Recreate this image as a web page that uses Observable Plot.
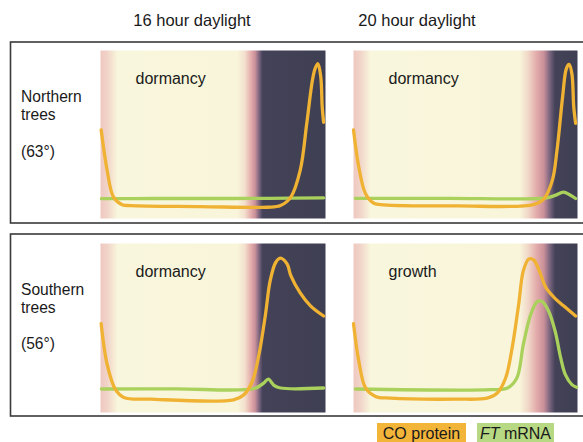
<!DOCTYPE html>
<html><head><meta charset="utf-8">
<script src="https://cdn.jsdelivr.net/npm/d3@7"></script>
<script src="https://cdn.jsdelivr.net/npm/@observablehq/plot@0.6"></script>
<style>
body{margin:0;background:#fff;}
#root{position:relative;width:583px;height:442px;overflow:hidden;font-family:"Liberation Sans",Arial,Helvetica,sans-serif;color:#1a1a1a;background:#fff;}
.panel{position:absolute;}
</style></head><body><div id="root"></div>
<script>
// ---- data ----
const columns = ["16 hour daylight", "20 hour daylight"];
const rowLabels = [["Northern", "trees", "(63°)"], ["Southern", "trees", "(56°)"]];
const states = [["dormancy", "dormancy"], ["dormancy", "growth"]];
const legendLabels = ["CO protein", "FT mRNA"];

// x = hour of day (0–24), y = relative level (0–100)
const coNorth16 = [[0.07,52.8],[0.71,28.6],[1.39,12.7],[2.31,8.2],[3.2,7.7],[10.7,7.1],[17.8,6.7],[19.2,7.7],[20.3,12.7],[21.3,28.6],[22.0,56.5],[22.6,82.1],[22.9,89.3],[23.2,92.1],[23.5,84.1],[23.65,66.3],[23.8,57.3]];
const ftNorth16 = [[0.1,11.8],[6,11.9],[12,11.9],[18,12.0],[23.8,12.3]];
const coNorth20 = [[0.0,52.8],[0.57,30.5],[1.29,14.7],[2.17,9.1],[3.25,8.1],[11.1,7.5],[19.3,8.3],[20.4,11.7],[21.3,22.6],[21.8,40.5],[22.4,72.2],[22.8,89.1],[23.1,91.7],[23.4,86.1],[23.6,66.3],[23.8,56.7]];
const ftNorth20 = [[0.2,12.0],[10,12.0],[20.7,12.3],[21.6,13.8],[22.5,15.7],[23.2,14.0],[23.8,11.9]];
const coSouth16 = [[0.07,52.6],[0.71,28.4],[1.6,13.5],[2.49,8.9],[5.3,7.9],[14.2,7.5],[15.3,10.5],[16.2,18.5],[16.9,34.3],[17.6,58.2],[18.1,78],[18.7,88.9],[19.2,91.3],[19.9,87.9],[20.3,81],[21.3,70.8],[22.4,63.1],[23.8,57.1]];
const ftSouth16 = [[0.1,13.9],[8,14.0],[16.4,14.2],[17.4,17.4],[17.9,19.8],[18.5,16.1],[19.2,14.5],[23.8,14.5]];
const coSouth20 = [[0.0,52.6],[0.57,30.4],[1.29,14.5],[2.36,9.5],[3.96,8.5],[11.1,7.9],[14.3,8.5],[15.4,11.5],[16.3,20.4],[17.0,38.3],[17.7,64.1],[18.2,83.9],[18.8,90.9],[19.3,90.3],[19.9,83.9],[20.6,74],[21.5,68],[22.5,63.1],[23.8,57.1]];
const ftSouth20 = [[0.2,13.9],[14.7,13.5],[16.5,14.5],[17.5,20.4],[18.2,40.3],[19.0,58.2],[19.7,65.7],[20.2,65.7],[20.9,60.1],[21.6,48.2],[22.2,32.3],[22.7,22.4],[23.4,16.5],[23.9,14.9]];

// sky colour through the day: [hour, colour]
const sky16 = [[0,"#efc8c0"],[0.7,"#f1d3c8"],[1.8,"#f8f6dc"],[14.6,"#f8f5da"],[15.4,"#f3dfcd"],[16.0,"#e5b0ad"],[16.5,"#c99099"],[16.9,"#7d6680"],[17.3,"#434258"],[24,"#3f3f53"]];
const sky20 = [[0,"#efc8c0"],[0.7,"#f1d3c8"],[1.8,"#f8f6dc"],[17.8,"#f8f5da"],[18.7,"#f1d8c8"],[19.6,"#e3acab"],[20.4,"#c99099"],[21.0,"#7d6680"],[21.6,"#434258"],[24,"#3f3f53"]];

// ---- layout ----
const FONT = "'Liberation Sans', Arial, Helvetica, sans-serif";
const ORANGE = "#f0b232", GREEN = "#a9d15c";
const root = document.getElementById("root");

const deco = d3.create("svg").attr("width", 583).attr("height", 442)
  .style("position", "absolute").style("left", 0).style("top", 0)
  .style("font-family", FONT).attr("fill", "#1a1a1a");

const rowBoxes = [{y: 42, h: 181}, {y: 234, h: 182}];
rowBoxes.forEach(b => deco.append("rect").attr("x", 10.5).attr("y", b.y).attr("width", 620).attr("height", b.h)
  .attr("fill", "#fff").attr("stroke", "#3a3a3a").attr("stroke-width", 1.6));

const titleX = [192, 417];
columns.forEach((c, i) => deco.append("text").attr("x", titleX[i]).attr("y", 26)
  .attr("text-anchor", "middle").attr("font-size", 16.5).text(c));

const labelY = [[102, 120, 157], [295, 313, 349]];
rowLabels.forEach((lines, r) => lines.forEach((t, k) =>
  deco.append("text").attr("x", 21).attr("y", labelY[r][k]).attr("font-size", 15.6).text(t)));

// legend
deco.append("rect").attr("x", 377).attr("y", 423).attr("width", 89).attr("height", 24).attr("fill", "#f3b43a");
deco.append("text").attr("x", 421.5).attr("y", 438.5).attr("text-anchor", "middle").attr("font-size", 16).text(legendLabels[0]);
deco.append("rect").attr("x", 477).attr("y", 423).attr("width", 77).attr("height", 24).attr("fill", "#b8d983");
const ft = deco.append("text").attr("x", 515.5).attr("y", 438.5).attr("text-anchor", "middle").attr("font-size", 16);
ft.append("tspan").attr("font-style", "italic").text(legendLabels[1].split(" ")[0]);
ft.append("tspan").text(" " + legendLabels[1].split(" ")[1]);

root.appendChild(deco.node());

function panel(co, ftData, sky, label, left, top, w, h, id) {
  const p = Plot.plot({
    width: w, height: h, margin: 0,
    style: {fontFamily: FONT, background: "transparent", overflow: "visible"},
    x: {domain: [0, 24], axis: null},
    y: {domain: [0, 100], axis: null},
    marks: [
      Plot.frame({fill: `url(#${id})`, stroke: null}),
      Plot.text([label], {frameAnchor: "top-left", dx: 35, dy: 33.5, text: d => d, lineAnchor: "bottom",
        textAnchor: "start", fontSize: 16, fill: "#1a1a1a"}),
      Plot.line(ftData, {x: d => d[0], y: d => d[1], stroke: GREEN, strokeWidth: 3.3, curve: "catmull-rom"}),
      Plot.line(co, {x: d => d[0], y: d => d[1], stroke: ORANGE, strokeWidth: 3.3, curve: "catmull-rom"})
    ]
  });
  const grad = d3.select(p).insert("defs", ":first-child").append("linearGradient")
    .attr("id", id).attr("x1", 0).attr("x2", 1).attr("y1", 0).attr("y2", 0);
  sky.forEach(([hr, c]) => grad.append("stop").attr("offset", hr / 24).attr("stop-color", c));
  const div = document.createElement("div");
  div.className = "panel";
  div.style.left = left + "px"; div.style.top = top + "px";
  div.appendChild(p);
  root.appendChild(div);
}

panel(coNorth16, ftNorth16, sky16, states[0][0], 100, 50, 225, 168, "skyA");
panel(coNorth20, ftNorth20, sky20, states[0][1], 353, 50, 224, 168, "skyB");
panel(coSouth16, ftSouth16, sky16, states[1][0], 100, 243, 225, 169, "skyC");
panel(coSouth20, ftSouth20, sky20, states[1][1], 353, 243, 224, 169, "skyD");
</script></body></html>
